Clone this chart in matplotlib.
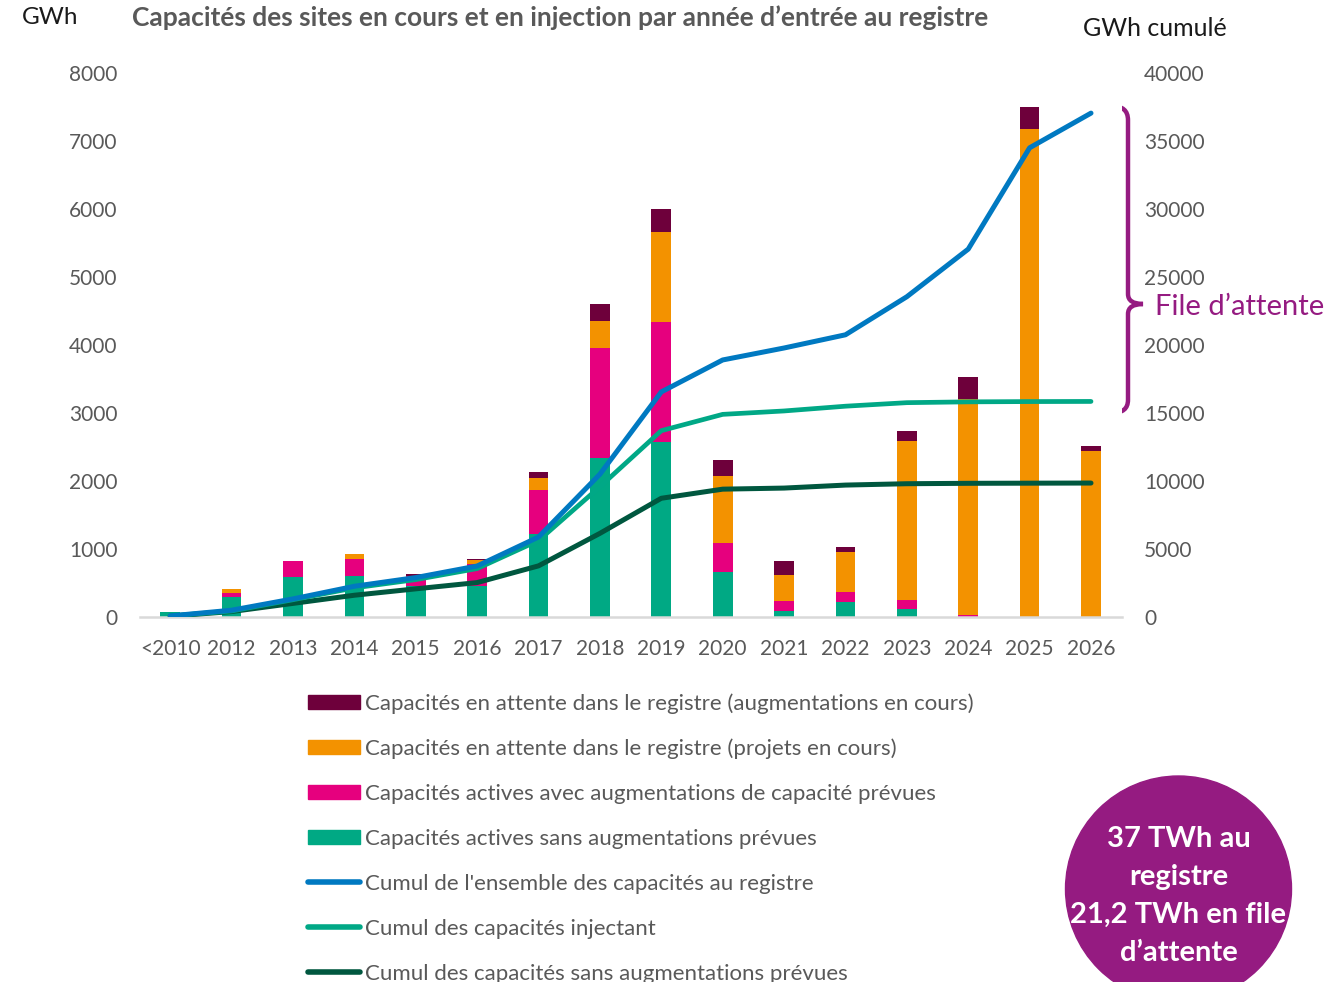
import matplotlib
matplotlib.use('Agg')
import matplotlib.pyplot as plt
import matplotlib.transforms as mtransforms
from matplotlib.path import Path
from matplotlib.patches import PathPatch, Patch, Circle
from matplotlib.lines import Line2D
import numpy as np

plt.rcParams['font.family'] = ['Lato', 'DejaVu Sans']

# values (GWh)
years = ['<2010', '2012', '2013', '2014', '2015', '2016', '2017', '2018',
         '2019', '2020', '2021', '2022', '2023', '2024', '2025', '2026']
actives_sans = [80, 300, 590, 610, 460, 460, 1215, 2335, 2570, 660, 85, 220, 115, 0, 0, 0]
actives_avec = [0, 55, 235, 245, 140, 320, 650, 1615, 1770, 430, 155, 155, 140, 30, 0, 0]
attente_projets = [0, 55, 0, 75, 5, 60, 175, 405, 1320, 980, 380, 580, 2340, 3180, 7180, 2435]
attente_augm = [0, 5, 0, 0, 30, 15, 90, 245, 340, 235, 210, 80, 140, 320, 315, 80]

# cumulative lines (GWh cumulé, right axis)
cumul_total = [80, 500, 1330, 2260, 2900, 3750, 5880, 10500, 16550, 18900,
               19780, 20750, 23550, 27050, 34500, 37050]
cumul_injectant = [80, 440, 1270, 2140, 2750, 3560, 5620, 9580, 13700, 14900,
                   15150, 15500, 15760, 15820, 15840, 15850]
cumul_sans = [60, 400, 1000, 1600, 2070, 2530, 3760, 6150, 8730, 9400,
              9480, 9700, 9800, 9830, 9840, 9850]

labels = ["Capacités en attente dans le registre (augmentations en cours)",
          "Capacités en attente dans le registre (projets en cours)",
          "Capacités actives avec augmentations de capacité prévues",
          "Capacités actives sans augmentations prévues",
          "Cumul de l'ensemble des capacités au registre",
          "Cumul des capacités injectant",
          "Cumul des capacités sans augmentations prévues"]

c_maroon = '#6E003B'
c_orange = '#F39200'
c_pink = '#E6007E'
c_green = '#00A984'
c_blue = '#0079C1'
c_teal = '#00A886'
c_dark = '#00573F'
c_purple = '#951B81'
grey = '#595959'

W, H = 1326, 982
fig = plt.figure(figsize=(W / 100, H / 100), dpi=100)
ax = fig.add_axes([139.5 / W, 1 - 617 / H, (1121.7 - 139.5) / W, (617 - 73) / H])
ax2 = ax.twinx()

x = np.arange(len(years))
bw = 0.32
b1 = np.array(actives_sans)
b2 = b1 + np.array(actives_avec)
b3 = b2 + np.array(attente_projets)
ax.bar(x, actives_sans, bw, color=c_green, zorder=2)
ax.bar(x, actives_avec, bw, bottom=b1, color=c_pink, zorder=2)
ax.bar(x, attente_projets, bw, bottom=b2, color=c_orange, zorder=2)
ax.bar(x, attente_augm, bw, bottom=b3, color=c_maroon, zorder=2)

ax2.plot(x, cumul_sans, color=c_dark, lw=3.6, solid_capstyle='round', solid_joinstyle='round')
ax2.plot(x, cumul_injectant, color=c_teal, lw=3.4, solid_capstyle='round', solid_joinstyle='round')
ax2.plot(x, cumul_total, color=c_blue, lw=3.6, solid_capstyle='round', solid_joinstyle='round')

ax.set_xlim(-0.5, len(years) - 0.5)
ax.set_ylim(0, 8000)
ax2.set_ylim(0, 40000)
ax.set_yticks(np.arange(0, 8001, 1000))
ax2.set_yticks(np.arange(0, 40001, 5000))
ax.set_xticks(x)
ax.set_xticklabels(years)
ax.tick_params(axis='both', length=0, labelsize=15, labelcolor=grey, pad=16)
ax2.tick_params(axis='y', length=0, labelsize=15, labelcolor=grey, pad=16)
for a in (ax, ax2):
    for s in ('top', 'right', 'left'):
        a.spines[s].set_visible(False)
ax2.spines['bottom'].set_visible(False)
ax.spines['bottom'].set_color('#D9D9D9')
ax.spines['bottom'].set_linewidth(1.8)
ax.set_zorder(1)
ax2.set_zorder(2)
ax2.patch.set_visible(False)

# texts
fig.text(22 / W, 1 - 18 / H, 'GWh', fontsize=17.5, color='#1a1a1a', va='center', ha='left')
fig.text(132 / W, 1 - 18 / H,
         "Capacités des sites en cours et en injection par année d\u2019entrée au registre",
         fontsize=19, fontweight='bold', color=grey, va='center', ha='left')
fig.text(1083 / W, 1 - 28 / H, 'GWh cumulé', fontsize=18, color='#1a1a1a', va='center', ha='left')

# bracket "File d'attente"
px = mtransforms.Affine2D().scale(1 / W, -1 / H).translate(0, 1) + fig.transFigure
verts = [(1112, 106), (1128, 106), (1128, 120),
         (1128, 294),
         (1128, 304), (1143, 304),
         (1128, 304), (1128, 314),
         (1128, 400),
         (1128, 413), (1112, 413)]
codes = [Path.MOVETO, Path.CURVE3, Path.CURVE3,
         Path.LINETO,
         Path.CURVE3, Path.CURVE3,
         Path.CURVE3, Path.CURVE3,
         Path.LINETO,
         Path.CURVE3, Path.CURVE3]
fig.add_artist(PathPatch(Path(verts, codes), transform=px, fill=False,
                         edgecolor=c_purple, lw=3.2, capstyle='butt'))
fig.text(1155 / W, 1 - 307 / H, "File d\u2019attente", fontsize=21, color=c_purple,
         va='center', ha='left')

# circle
fig.add_artist(Circle((1178.5, 889), 113, transform=px, color=c_purple, zorder=5))
fig.text(1178.5 / W, 1 - 896 / H, "37 TWh au\nregistre\n21,2 TWh en file\nd\u2019attente",
         fontsize=21, fontweight='bold', color='white', ha='center', va='center',
         linespacing=1.58, zorder=6)

# legend
handles = [Patch(color=c_maroon), Patch(color=c_orange), Patch(color=c_pink), Patch(color=c_green),
           Line2D([], [], color=c_blue, lw=4, solid_capstyle='round'),
           Line2D([], [], color=c_teal, lw=4, solid_capstyle='round'),
           Line2D([], [], color=c_dark, lw=4, solid_capstyle='round')]
fig.legend(handles, labels, loc='upper left', bbox_to_anchor=(308 / W, 1 - 693 / H),
           bbox_transform=fig.transFigure, frameon=False, fontsize=16, labelcolor=grey,
           handlelength=2.35, handleheight=0.6, handletextpad=0.22, labelspacing=1.12,
           borderpad=0, borderaxespad=0)

fig.savefig('out.png', dpi=100)
